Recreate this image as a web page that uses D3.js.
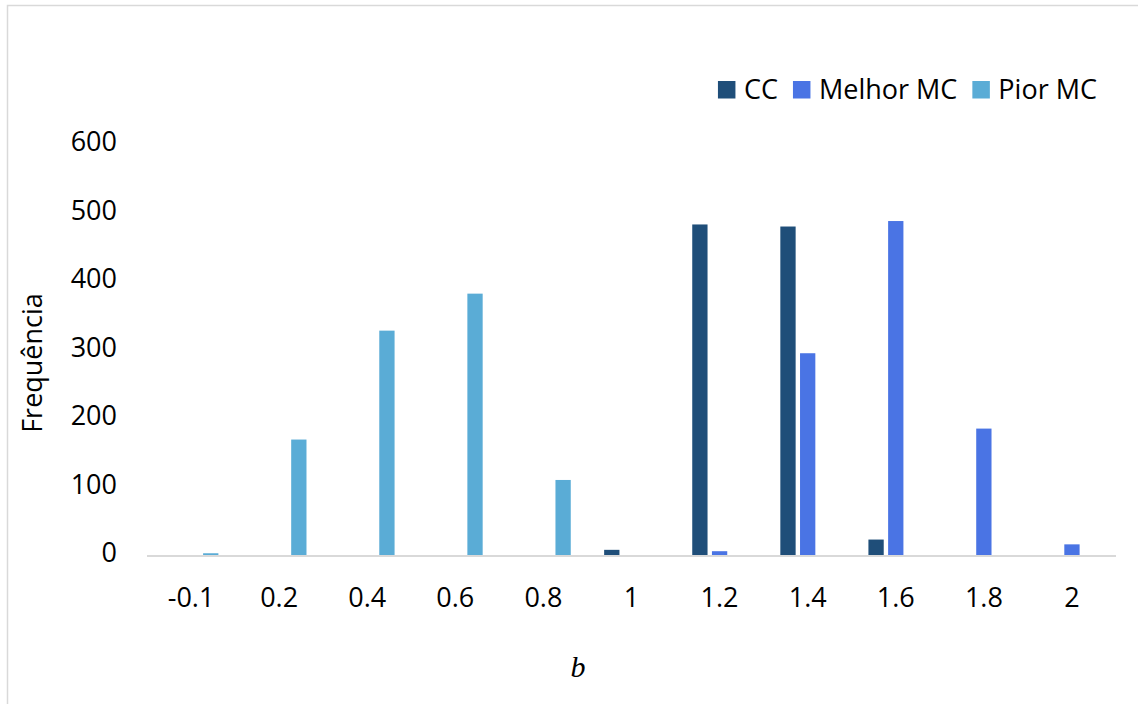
<!DOCTYPE html>
<html>
<head>
<meta charset="utf-8">
<script src="https://cdn.jsdelivr.net/npm/d3@7"></script>
<style>
  body{margin:0;background:#fff;overflow:hidden}
  svg text{font-family:"Open Sans",sans-serif;fill:#000}
</style>
</head>
<body>
<script>
var categories=["-0.1","0.2","0.4","0.6","0.8","1","1.2","1.4","1.6","1.8","2"]
var seriesNames=["CC","Melhor MC","Pior MC"]
var ccValues=[0,0,0,0,0,9,484,481,24,0,0]
var melhorValues=[0,0,0,0,0,0,7,296,489,186,17]
var piorValues=[4,170,329,383,111,0,0,0,0,0,0]
var yTicks=[0,100,200,300,400,500,600]
var colors=["#1f4e79","#4a74e4","#5aacd6"]

var drawChart=function(){
  var width=1138,height=704
  var margin={top:145,left:147,right:22,bottom:148}
  var svg=d3.select("body").append("svg")
    .attr("width",width)
    .attr("height",height)
    .style("display","block")

  // chart border (runs off the right and bottom edges)
  svg.append("rect")
    .attr("x",7.5).attr("y",5.5)
    .attr("width",1140).attr("height",710)
    .style("fill","none").style("stroke","#d9d9d9").style("stroke-width",1.5)

  var xScale=d3.scaleBand()
    .domain(categories)
    .range([margin.left,width-margin.right])
  var yScale=d3.scaleLinear()
    .domain([0,600])
    .range([height-margin.bottom,margin.top])

  var barW=15.3,step=19.7
  var allSeries=[ccValues,melhorValues,piorValues]

  allSeries.forEach(function(vals,si){
    var pts=vals.map(function(v,i){return {cat:categories[i],v:v}})
      .filter(function(d){return d.v>0})
    svg.append("g").attr("id","s"+si)
      .selectAll("rect").data(pts).enter().append("rect")
      .attr("x",function(d){return xScale(d.cat)+xScale.bandwidth()/2+(si-1)*step-barW/2})
      .attr("y",function(d){return yScale(d.v)})
      .attr("width",barW)
      .attr("height",function(d){return yScale(0)-yScale(d.v)})
      .style("fill",colors[si])
  })

  // x axis line
  svg.append("line")
    .attr("x1",margin.left).attr("x2",width-margin.right)
    .attr("y1",yScale(0)).attr("y2",yScale(0))
    .style("stroke","#d9d9d9").style("stroke-width",2)

  // y tick labels
  svg.append("g").selectAll("text").data(yTicks).enter().append("text")
    .attr("x",117)
    .attr("y",function(d){return yScale(d)-3})
    .attr("dy","0.35em")
    .attr("text-anchor","end")
    .style("font-size","27px")
    .text(function(d){return d})

  // x tick labels
  svg.append("g").selectAll("text").data(categories).enter().append("text")
    .attr("x",function(d){return xScale(d)+xScale.bandwidth()/2})
    .attr("y",598)
    .attr("dy","0.35em")
    .attr("text-anchor","middle")
    .style("font-size","27px")
    .text(function(d){return d})

  // axis titles
  svg.append("text")
    .attr("transform","translate(33,363) rotate(-90)")
    .attr("text-anchor","middle")
    .attr("dy","0.35em")
    .style("font-size","27px")
    .text("Frequência")
  svg.append("text")
    .attr("x",578).attr("y",666)
    .attr("dy","0.35em")
    .attr("text-anchor","middle")
    .style("font-family","'Liberation Serif',serif")
    .style("font-style","italic")
    .style("font-size","30px")
    .text("b")

  // legend, laid out right to left from measured text widths
  var lg=svg.append("g").selectAll("g").data(seriesNames).enter().append("g")
  lg.append("rect")
    .attr("width",17.5).attr("height",17.5)
    .style("fill",function(d,i){return colors[i]})
  lg.append("text")
    .attr("x",26).attr("y",9)
    .attr("dy","0.35em")
    .style("font-size","27px")
    .text(function(d){return d})
  var widths=[]
  lg.selectAll("text").each(function(){widths.push(this.getComputedTextLength())})
  var right=1097,xs=[]
  for(var i=seriesNames.length-1;i>=0;i--){
    var x=right-widths[i]-26
    xs[i]=x
    right=x-15
  }
  lg.attr("transform",function(d,i){return "translate("+xs[i]+",81)"})
}

drawChart()
</script>
</body>
</html>
